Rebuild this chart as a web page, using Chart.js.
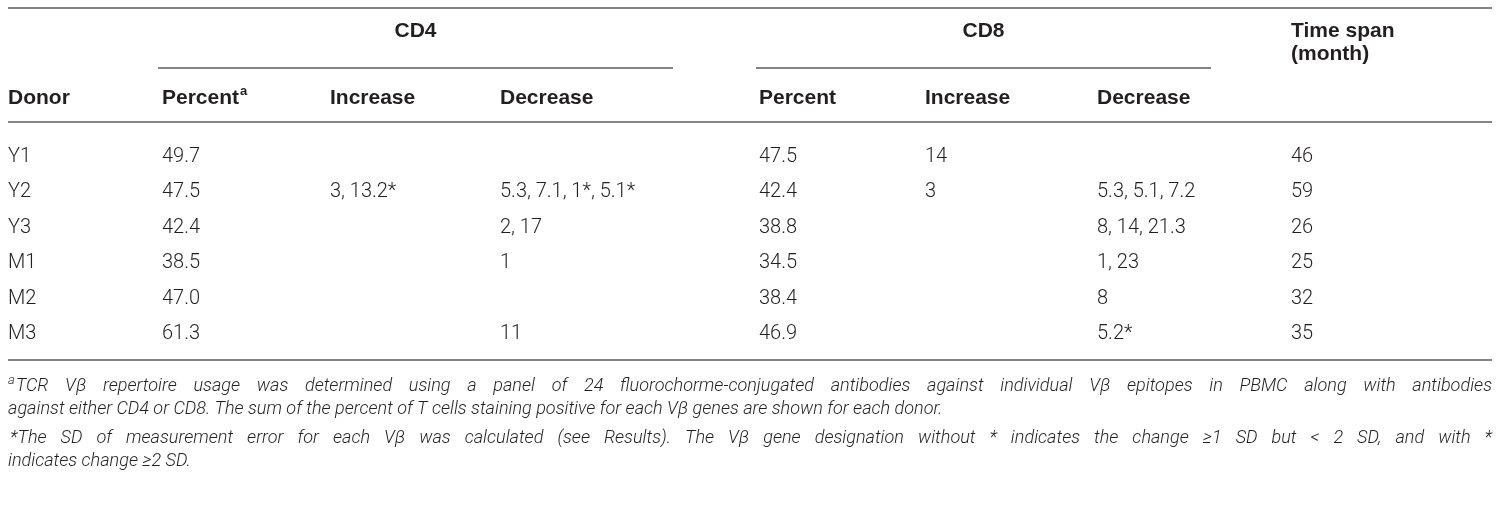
<!DOCTYPE html>
<html>
<head>
<meta charset="utf-8">
<script src="https://cdn.jsdelivr.net/npm/chart.js@4/dist/chart.umd.min.js"></script>
<style>
  html, body { margin: 0; padding: 0; background: #fff; }
  #wrap { position: relative; width: 1500px; height: 516px; }
</style>
</head>
<body>
<div id="wrap"><canvas id="table"></canvas></div>
<script>
// ── Table data ───────────────────────────────────────────
const donors      = ['Y1', 'Y2', 'Y3', 'M1', 'M2', 'M3'];
const cd4Percent  = [49.7, 47.5, 42.4, 38.5, 47.0, 61.3];
const cd4Increase = ['', '3, 13.2*', '', '', '', ''];
const cd4Decrease = ['', '5.3, 7.1, 1*, 5.1*', '2, 17', '1', '', '11'];
const cd8Percent  = [47.5, 42.4, 38.8, 34.5, 38.4, 46.9];
const cd8Increase = ['14', '3', '', '', '', ''];
const cd8Decrease = ['', '5.3, 5.1, 7.2', '8, 14, 21.3', '1, 23', '8', '5.2*'];
const timeSpan    = [46, 59, 26, 25, 32, 35];

const groupHeaders  = ['CD4', 'CD8'];
const columnHeaders = ['Donor', 'Percent', 'Increase', 'Decrease', 'Percent', 'Increase', 'Decrease'];
const timeHeader    = ['Time span', '(month)'];

const footnoteA    = ['TCR Vβ repertoire usage was determined using a panel of 24 fluorochorme-conjugated antibodies against individual Vβ epitopes in PBMC along with antibodies',
                      'against either CD4 or CD8. The sum of the percent of T cells staining positive for each Vβ genes are shown for each donor.'];
const footnoteStar = ['*The SD of measurement error for each Vβ was calculated (see Results). The Vβ gene designation without * indicates the change ≥1 SD but < 2 SD, and with *',
                      'indicates change ≥2 SD.'];

// ── Layout (pixel units on both axes) ────────────────────
const W = 1500, H = 516;
const tableLeft = 8, tableRight = 1492;
const colLeft = [8, 162, 330, 500, 759, 925, 1097, 1291];
const groupSpans = [[158, 673], [756, 1211]];
const Y = {
  topRule: 8, group: 31, groupRule: 68, head: 98, headRule: 122,
  firstRow: 157, rowStep: 35.4, bottomRule: 360,
  time: [31, 54], foot: [386, 409, 438, 461],
};

const INK = '#231f20';
const RULE = '#5a5a5a';
const BODY_FONT = '300 20px Roboto, "Liberation Sans", sans-serif';
const HEAD_FONT = 'bold 21px "Liberation Sans", Arial, sans-serif';
const SUP_FONT  = 'bold 13px "Liberation Sans", Arial, sans-serif';
const FOOT_FAMILY = 'Roboto, "Liberation Sans", sans-serif';

const columns = [
  donors,
  cd4Percent.map(v => v.toFixed(1)),
  cd4Increase,
  cd4Decrease,
  cd8Percent.map(v => v.toFixed(1)),
  cd8Increase,
  cd8Decrease,
  timeSpan.map(String),
];

const datasets = columns.map((col, c) => ({
  label: c < columnHeaders.length ? columnHeaders[c] : 'Time span',
  data: col.map((text, r) => ({ x: colLeft[c], y: Y.firstRow + r * Y.rowStep, text })),
  pointRadius: 0,
  showLine: false,
}));

// ── Drawing plugin ───────────────────────────────────────
function justify(ctx, text, x0, x1, y) {
  const words = text.split(' ');
  const widths = words.map(w => ctx.measureText(w).width);
  const gap = (x1 - x0 - widths.reduce((a, b) => a + b, 0)) / (words.length - 1);
  let x = x0;
  words.forEach((w, i) => { ctx.fillText(w, x, y); x += widths[i] + gap; });
}

const tablePlugin = {
  id: 'tableText',
  afterDatasetsDraw(chart) {
    const ctx = chart.ctx;
    const xs = chart.scales.x, ys = chart.scales.y;
    const px = v => xs.getPixelForValue(v);
    const py = v => ys.getPixelForValue(v);

    ctx.save();
    // rules
    ctx.strokeStyle = RULE;
    ctx.lineWidth = 1.6;
    const hline = (a, b, y) => { ctx.beginPath(); ctx.moveTo(px(a), py(y)); ctx.lineTo(px(b), py(y)); ctx.stroke(); };
    hline(tableLeft, tableRight, Y.topRule);
    groupSpans.forEach(([a, b]) => hline(a, b, Y.groupRule));
    hline(tableLeft, tableRight, Y.headRule);
    hline(tableLeft, tableRight, Y.bottomRule);

    ctx.fillStyle = INK;
    ctx.textBaseline = 'middle';

    // group headers
    ctx.font = HEAD_FONT;
    ctx.textAlign = 'center';
    groupHeaders.forEach((t, i) => {
      const [a, b] = groupSpans[i];
      ctx.fillText(t, (px(a) + px(b)) / 2, py(Y.group));
    });

    // column headers
    ctx.textAlign = 'left';
    columnHeaders.forEach((t, c) => {
      ctx.font = HEAD_FONT;
      ctx.fillText(t, px(colLeft[c]), py(Y.head));
      if (c === 1) {
        const w = ctx.measureText(t).width;
        ctx.font = SUP_FONT;
        ctx.fillText('a', px(colLeft[c]) + w + 1, py(Y.head) - 7);
      }
    });
    ctx.font = HEAD_FONT;
    timeHeader.forEach((t, i) => ctx.fillText(t, px(colLeft[7]), py(Y.time[i])));

    // body cells
    ctx.font = BODY_FONT;
    chart.data.datasets.forEach((ds, i) => {
      chart.getDatasetMeta(i).data.forEach((el, j) => {
        const t = ds.data[j].text;
        if (t) ctx.fillText(t, el.x, el.y);
      });
    });

    // footnotes: size fitted to the ragged line width
    ctx.font = `italic 300 18px ${FOOT_FAMILY}`;
    const fitted = 18 * 935 / ctx.measureText(footnoteA[1]).width;
    const footFont = `italic 300 ${fitted.toFixed(2)}px ${FOOT_FAMILY}`;
    const footSup = `italic 300 ${(fitted * 0.72).toFixed(2)}px ${FOOT_FAMILY}`;

    ctx.font = footSup;
    const supW = ctx.measureText('a').width + 1;
    ctx.fillText('a', px(tableLeft), py(Y.foot[0]) - 5);
    ctx.font = footFont;
    justify(ctx, footnoteA[0], px(tableLeft) + supW, px(tableRight), py(Y.foot[0]));
    ctx.fillText(footnoteA[1], px(tableLeft), py(Y.foot[1]));
    justify(ctx, footnoteStar[0], px(tableLeft) + 2, px(tableRight), py(Y.foot[2]));
    ctx.fillText(footnoteStar[1], px(tableLeft), py(Y.foot[3]));
    ctx.restore();
  },
};

new Chart(document.getElementById('table'), {
  type: 'scatter',
  data: { datasets },
  options: {
    responsive: true,
    maintainAspectRatio: false,
    animation: false,
    layout: { padding: 0 },
    plugins: { legend: { display: false }, tooltip: { enabled: false } },
    scales: {
      x: { type: 'linear', min: 0, max: W, display: false },
      y: { type: 'linear', min: 0, max: H, reverse: true, display: false },
    },
  },
  plugins: [tablePlugin],
});
</script>
</body>
</html>
